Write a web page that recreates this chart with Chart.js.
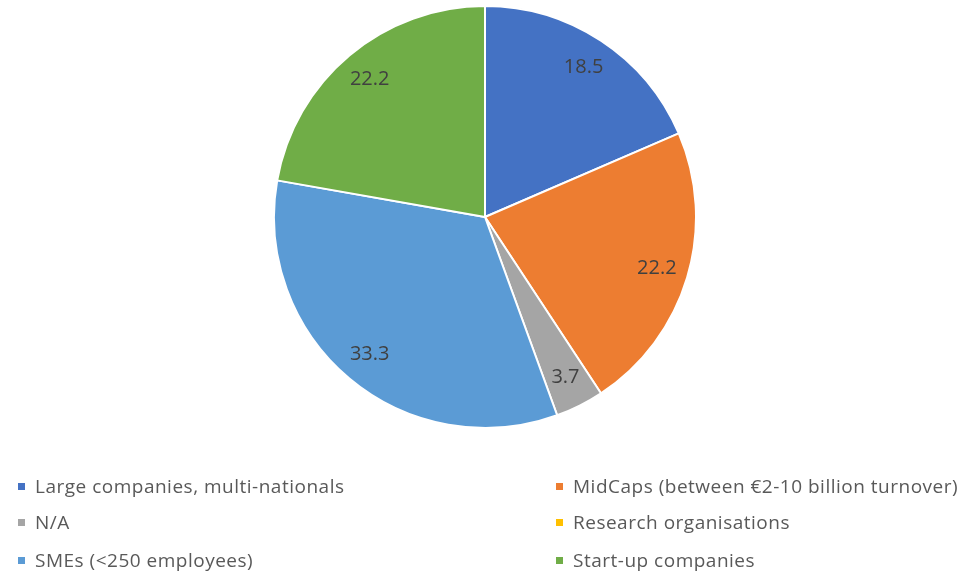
<!DOCTYPE html>
<html>
<head>
<meta charset="utf-8">
<script src="https://cdn.jsdelivr.net/npm/chart.js@4.4.0/dist/chart.umd.min.js"></script>
<style>
  html, body { margin: 0; padding: 0; background: #fff; }
  body { width: 969px; height: 574px; position: relative; overflow: hidden; font-family: "Open Sans", sans-serif; }
  #pieWrap { position: absolute; left: 273px; top: 5px; width: 424px; height: 424px; }
  #legend { position: absolute; left: 0; top: 0; width: 969px; height: 574px; pointer-events: none; }
  .item { position: absolute; font-size: 19px; letter-spacing: 0.5px; color: #595959; white-space: nowrap; line-height: 20px; }
  .sw { position: absolute; width: 7px; height: 7px; left: -17px; top: 7px; }
</style>
</head>
<body>
<div id="pieWrap"><canvas id="c"></canvas></div>
<div id="legend"></div>
<script>
const categories = [
  "Large companies, multi-nationals",
  "MidCaps (between €2-10 billion turnover)",
  "N/A",
  "Research organisations",
  "SMEs (<250 employees)",
  "Start-up companies"
];
const values = [18.5, 22.2, 3.7, 0, 33.3, 22.2];
const colors = ["#4472C4", "#ED7D31", "#A5A5A5", "#FFC000", "#5B9BD5", "#70AD47"];

const labelPlugin = {
  id: 'sliceLabels',
  afterDatasetsDraw(chart) {
    const ctx = chart.ctx;
    const meta = chart.getDatasetMeta(0);
    ctx.save();
    ctx.font = '20px "Open Sans", sans-serif';
    ctx.fillStyle = '#404040';
    ctx.textAlign = 'center';
    ctx.textBaseline = 'middle';
    meta.data.forEach((arc, i) => {
      const v = chart.data.datasets[0].data[i];
      if (!v) return;
      const p = arc.getProps(['x','y','startAngle','endAngle','outerRadius'], true);
      const mid = (p.startAngle + p.endAngle) / 2;
      const r = p.outerRadius * 0.85;
      ctx.fillText(v.toFixed(1), p.x + Math.cos(mid) * r, p.y + Math.sin(mid) * r);
    });
    ctx.restore();
  }
};

new Chart(document.getElementById('c'), {
  type: 'pie',
  data: {
    labels: categories,
    datasets: [{ data: values, backgroundColor: colors, borderColor: '#ffffff', borderWidth: 2 }]
  },
  options: {
    responsive: true,
    maintainAspectRatio: false,
    animation: false,
    layout: { padding: 0 },
    plugins: { legend: { display: false }, tooltip: { enabled: false } }
  },
  plugins: [labelPlugin]
});

// Legend (two columns, three rows)
const legendPos = [
  [35, 476], [573, 476],
  [35, 512], [573, 512],
  [35, 550], [573, 550]
];
const leg = document.getElementById('legend');
categories.forEach((name, i) => {
  const d = document.createElement('div');
  d.className = 'item';
  d.style.left = legendPos[i][0] + 'px';
  d.style.top = legendPos[i][1] + 'px';
  const s = document.createElement('span');
  s.className = 'sw';
  s.style.background = colors[i];
  d.appendChild(s);
  d.appendChild(document.createTextNode(name));
  leg.appendChild(d);
});
</script>
</body>
</html>
